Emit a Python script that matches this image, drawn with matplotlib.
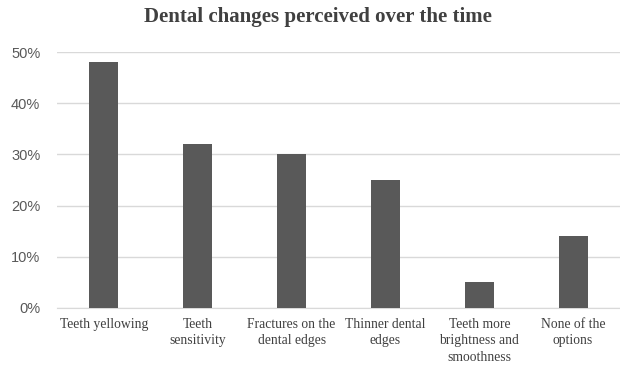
import matplotlib
matplotlib.use("Agg")
import matplotlib.pyplot as plt
from matplotlib.ticker import FuncFormatter

categories = ["Teeth yellowing", "Teeth\nsensitivity", "Fractures on the\ndental edges",
              "Thinner dental\nedges", "Teeth more\nbrightness and\nsmoothness", "None of the\noptions"]
values = [48, 32, 30, 25, 5, 14]
yticks = [0, 10, 20, 30, 40, 50]

fig = plt.figure(figsize=(6.2, 3.67), dpi=100)
ax = fig.add_axes([0.092, 0.161, 0.908, 0.697])

x = range(len(categories))
ax.bar(x, values, width=0.31, color="#595959", zorder=3)

ax.set_xlim(-0.5, len(categories) - 0.5)
ax.set_ylim(0, 50)
ax.set_yticks(yticks)
ax.yaxis.set_major_formatter(FuncFormatter(lambda v, p: f"{v:.0f}%"))
ax.grid(axis="y", color="#d9d9d9", linewidth=1, zorder=0)

for s in ["top", "right", "left"]:
    ax.spines[s].set_visible(False)
ax.spines["bottom"].set_color("#d9d9d9")
ax.tick_params(axis="both", length=0)
ax.tick_params(axis="y", labelsize=10.5, labelcolor="#595959", pad=12)
for lab in ax.get_yticklabels():
    lab.set_family("Liberation Sans")

ax.set_xticks(list(x))
ax.set_xticklabels(categories, family="Liberation Serif", fontsize=9.8,
                   color="#404040", linespacing=1.35)
ax.tick_params(axis="x", pad=7)

fig.text(0.513, 0.955, "Dental changes perceived over the time", ha="center", va="center",
         family="Liberation Serif", fontweight="bold", fontsize=15, color="#404040")

fig.savefig("out.png", dpi=100)
